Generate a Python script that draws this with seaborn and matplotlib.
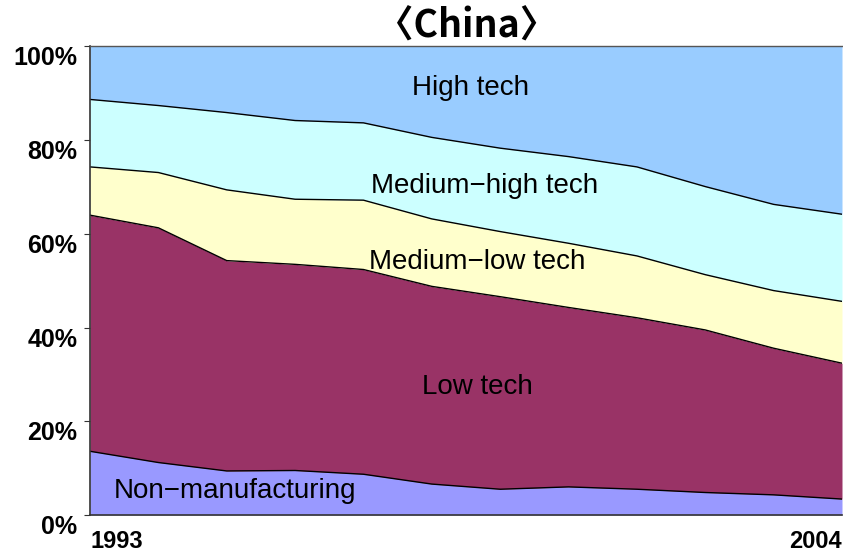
import numpy as np
import pandas as pd
import matplotlib
matplotlib.use("Agg")
import matplotlib.pyplot as plt
import matplotlib.transforms as mtransforms
import seaborn as sns

years = list(range(1993, 2005))
non_manufacturing = [13.6, 11.2, 9.4, 9.5, 8.7, 6.6, 5.5, 6.0, 5.5, 4.8, 4.3, 3.4]
low_tech = [50.4, 50.1, 44.9, 44.0, 43.7, 42.2, 41.1, 38.3, 36.6, 34.7, 31.3, 29.0]
medium_low_tech = [10.3, 11.8, 15.1, 13.9, 14.8, 14.4, 13.9, 13.7, 13.2, 11.8, 12.3, 13.2]
medium_high_tech = [14.4, 14.3, 16.5, 16.8, 16.5, 17.4, 17.8, 18.5, 19.0, 18.8, 18.4, 18.6]
high_tech = [11.3, 12.6, 14.1, 15.8, 16.3, 19.4, 21.7, 23.5, 25.7, 29.9, 33.7, 35.8]

series_names = ["Non\u2212manufacturing", "Low tech", "Medium\u2212low tech",
                "Medium\u2212high tech", "High tech"]
colors = ["#9999FF", "#993366", "#FFFFCC", "#CCFFFF", "#99CCFF"]
y_ticks = [0, 20, 40, 60, 80, 100]
y_tick_labels = ["0%", "20%", "40%", "60%", "80%", "100%"]
x_tick_labels = ["1993", "2004"]

sns.set_theme(style="white")
plt.rcParams['font.family'] = ['Liberation Sans', 'DejaVu Sans']
plt.rcParams['text.color'] = 'black'
plt.rcParams['xtick.color'] = 'black'
plt.rcParams['ytick.color'] = 'black'

df = pd.DataFrame({"year": years, series_names[0]: non_manufacturing,
                   series_names[1]: low_tech, series_names[2]: medium_low_tech,
                   series_names[3]: medium_high_tech, series_names[4]: high_tech})
vals = np.array([df[n].values for n in series_names])
tot = vals.sum(axis=0)
pct = vals / tot * 100
cum = np.cumsum(pct, axis=0)

fig = plt.figure(figsize=(8.43, 5.57), dpi=100)
ax = fig.add_axes([90/843, 42/557, 752/843, (515-46.5)/557])
ax.stackplot(df["year"], pct, colors=colors, linewidth=0)

bounds = pd.DataFrame({"year": np.tile(years, 4),
                       "value": cum[:4].ravel(),
                       "level": np.repeat(range(4), len(years))})
sns.lineplot(data=bounds, x="year", y="value", units="level", estimator=None,
             color="black", linewidth=1.0, ax=ax, legend=False)

ax.set_xlim(1993, 2004)
ax.set_ylim(0, 100)
ax.set_xlabel("")
ax.set_ylabel("")
ax.set_yticks(y_ticks)
ax.set_yticklabels(y_tick_labels, fontsize=18, fontweight="bold")
ax.set_xticks([1993, 2004])
ax.set_xticklabels(x_tick_labels, fontsize=17, fontweight="bold")
xl = ax.get_xticklabels()
xl[0].set_ha("left")
xl[1].set_ha("right")
xl[0].set_transform(xl[0].get_transform() +
                    mtransforms.ScaledTranslation(7/100, 0, fig.dpi_scale_trans))
for t in ax.get_yticklabels():
    t.set_va("top")
ax.tick_params(axis="x", length=0, pad=11)
ax.tick_params(axis="y", left=True, length=4, width=0.8, color="#333333", pad=5)
for s in ["left", "bottom"]:
    ax.spines[s].set_color("#333333")
    ax.spines[s].set_linewidth(1.2)
ax.spines["top"].set_color("#555555")
ax.spines["top"].set_linewidth(1.0)
ax.spines["right"].set_visible(False)

ax.text(1998.56, 91.1, series_names[4], fontsize=20, ha="center", va="center")
ax.text(1998.77, 70.2, series_names[3], fontsize=20, ha="center", va="center")
ax.text(1998.67, 54.0, series_names[2], fontsize=20, ha="center", va="center")
ax.text(1998.67, 27.3, series_names[1], fontsize=20, ha="center", va="center")
ax.text(1995.12, 5.1, series_names[0], fontsize=20, ha="center", va="center")

fig.text(0.553, 0.953, "\u3008China\u3009", fontsize=27, fontweight="bold",
         ha="center", va="center", family=['Noto Sans CJK KR', 'DejaVu Sans'])

fig.savefig("out.png", dpi=100)
